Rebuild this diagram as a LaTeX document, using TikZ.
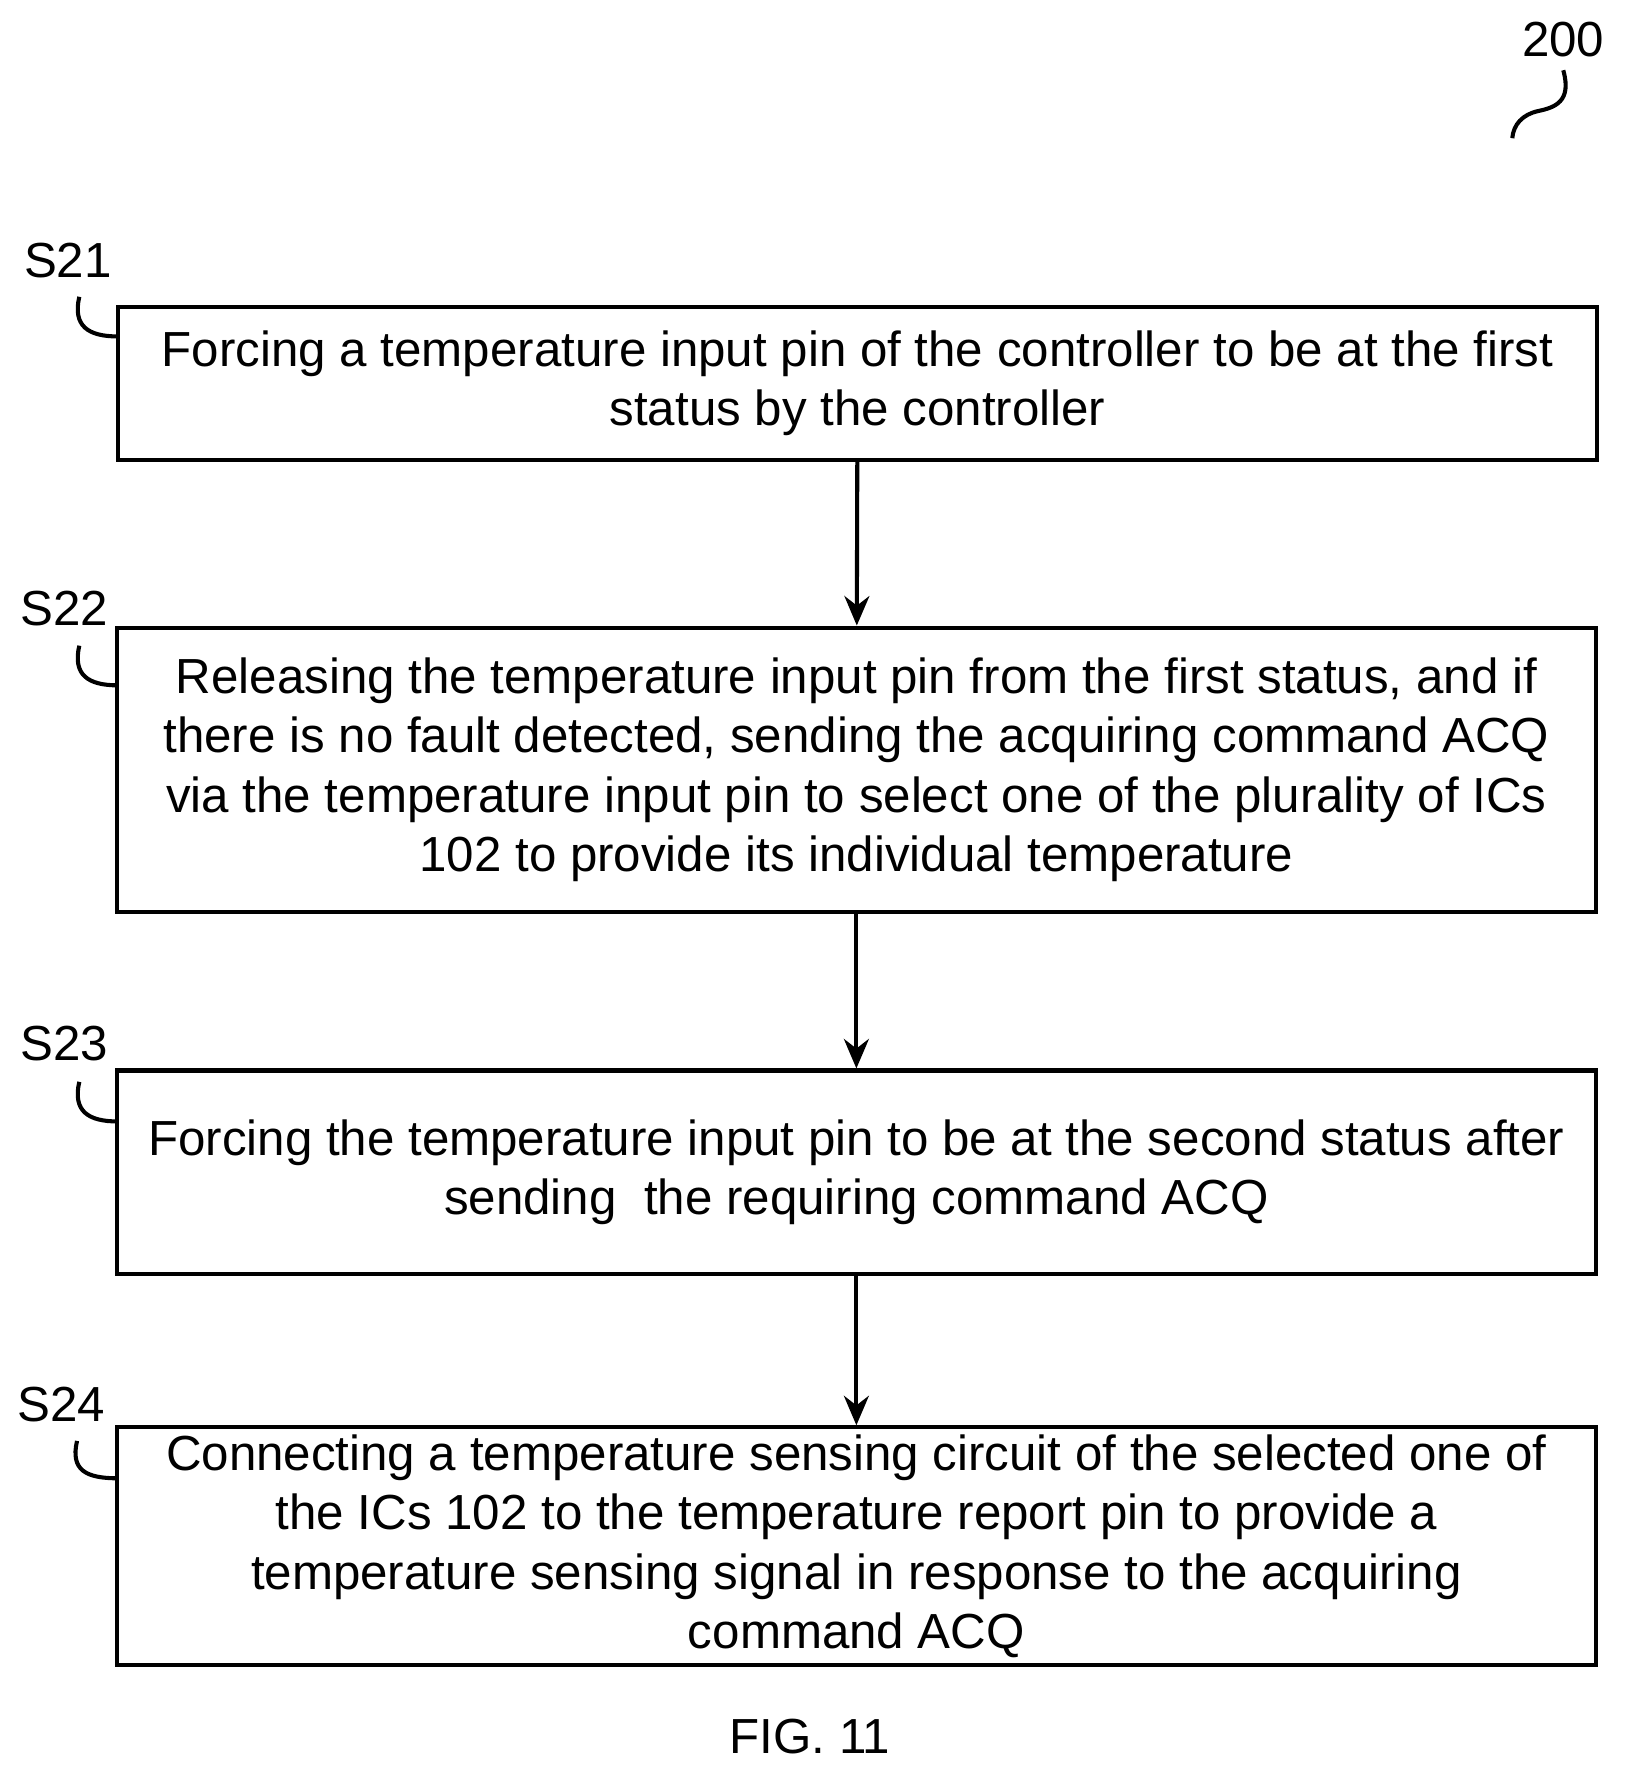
\documentclass[tikz,border=0pt]{standalone}
\usepackage{fontspec}
\setmainfont{Liberation Sans}
\usetikzlibrary{arrows.meta}
\begin{document}
\begin{tikzpicture}[x=1pt,y=-1pt,
 box/.style={draw,line width=3.6pt,minimum width=1306pt,align=center,inner sep=0pt,font=\fontsize{43.5}{52.5}\selectfont},
 lab/.style={font=\fontsize{43.5}{46}\selectfont},
 arr/.style={line width=3.6pt,-{Stealth[length=26pt,width=22pt]}},
 hook/.style={line width=3.6pt}]
\useasboundingbox (0,0) rectangle (1440,1574);
\node[box,minimum height=135pt] (b1) at (757,338.5) {Forcing a temperature input pin of the controller to be at the first\\status by the controller};
\node[box,minimum height=251pt] (b2) at (756,679.5) {Releasing the temperature input pin from the first status, and if\\there is no fault detected, sending the acquiring command ACQ\\via the temperature input pin to select one of the plurality of ICs\\102 to provide its individual temperature};
\node[box,minimum height=180pt] (b3) at (756,1035) {Forcing the temperature input pin to be at the second status after\\sending\ \ the requiring command ACQ};
\node[box,minimum height=210pt] (b4) at (756,1365) {Connecting a temperature sensing circuit of the selected one of\\the ICs 102 to the temperature report pin to provide a\\temperature sensing signal in response to the acquiring\\command ACQ};
\draw[arr] (b1) -- (b2);
\draw[arr] (b2) -- (b3);
\draw[arr] (b3) -- (b4);
\node[lab] (l1) at (60,230) {S21};
\node[lab] (l2) at (57,537) {S22};
\node[lab] (l3) at (57,921) {S23};
\node[lab] (l4) at (54,1240) {S24};
\node[lab] (l0) at (1380,35) {200};
\node[lab] (fig) at (715,1533) {FIG. 11};
\draw[hook] (70,262) .. controls (64,288) and (78,297) .. (104,297);
\draw[hook] (70,570) .. controls (64,596) and (78,605) .. (104,605);
\draw[hook] (70,955) .. controls (64,981) and (78,990) .. (104,990);
\draw[hook] (68,1272) .. controls (62,1298) and (76,1305) .. (104,1305);
\draw[hook] (1380,62) .. controls (1388,90) and (1372,95) .. (1358,98) .. controls (1344,101) and (1336,110) .. (1335,122);
\end{tikzpicture}
\end{document}
